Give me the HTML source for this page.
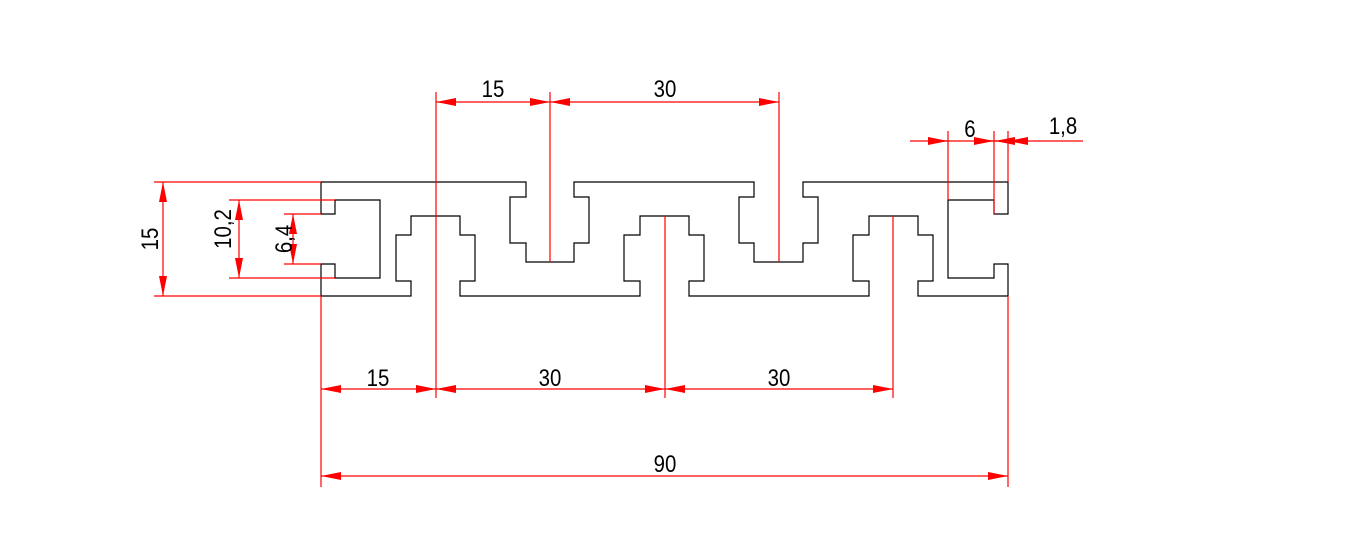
<!DOCTYPE html>
<html><head><meta charset="utf-8"><style>html,body{margin:0;padding:0;background:#fff}svg{display:block}</style></head>
<body>
<svg width="1345" height="556" viewBox="0 0 1345 556" xmlns="http://www.w3.org/2000/svg">
<defs>
<marker id="a" viewBox="0 0 20 8" refX="20" refY="4" markerWidth="20" markerHeight="8" markerUnits="userSpaceOnUse" orient="auto-start-reverse"><path d="M0,0 L20,4 L0,8 z" fill="#ff0000"/></marker>
</defs>
<path fill="none" stroke="#000" stroke-width="1.2" d="M321,182 H526 V197 H510 V243 H526 V262 H574 V243 H589 V197 H574 V182 H754 V197 H739 V243 H754 V262 H803 V243 H818 V197 H803 V182 H1008 V214 H994 V200 H948 V278 H994 V264 H1008 V296 H918 V281 H933 V235 H918 V216 H869 V235 H853 V281 H869 V296 H689 V281 H704 V235 H689 V216 H640 V235 H624 V281 H640 V296 H460 V281 H475 V235 H460 V216 H411 V235 H396 V281 H411 V296 H321 V264 H335 V278 H380 V200 H335 V214 H321 Z"/>
<g stroke="#ff0000" stroke-width="1.2" fill="none">
<path d="M154,182 H321 M154,296 H321 M229,200 H335 M229,278 H335 M284,214 H321 M284,264 H321"/>
<line x1="163" y1="182" x2="163" y2="296" marker-start="url(#a)" marker-end="url(#a)"/>
<line x1="239" y1="200" x2="239" y2="278" marker-start="url(#a)" marker-end="url(#a)"/>
<line x1="293" y1="214" x2="293" y2="264" marker-start="url(#a)" marker-end="url(#a)"/>
<path d="M436,92 V398 M550,92 V262 M779,92 V262 M665,216 V398 M893,216 V398 M321,296 V487 M1008,296 V487 M948,131 V200 M994,131 V214 M1008,131 V182"/>
<line x1="436" y1="102" x2="550" y2="102" marker-start="url(#a)" marker-end="url(#a)"/>
<line x1="550" y1="102" x2="779" y2="102" marker-start="url(#a)" marker-end="url(#a)"/>
<line x1="321" y1="389" x2="436" y2="389" marker-start="url(#a)" marker-end="url(#a)"/>
<line x1="436" y1="389" x2="665" y2="389" marker-start="url(#a)" marker-end="url(#a)"/>
<line x1="665" y1="389" x2="893" y2="389" marker-start="url(#a)" marker-end="url(#a)"/>
<line x1="321" y1="476" x2="1008" y2="476" marker-start="url(#a)" marker-end="url(#a)"/>
<line x1="910" y1="141" x2="1083" y2="141"/>
<line x1="928" y1="141" x2="948" y2="141" marker-end="url(#a)"/>
<line x1="974" y1="141" x2="994" y2="141" marker-end="url(#a)"/>
<line x1="1015" y1="141" x2="995" y2="141" marker-end="url(#a)"/>
<line x1="1028" y1="141" x2="1008" y2="141" marker-end="url(#a)"/>
</g>
<g font-family="Liberation Sans, sans-serif" font-size="24" fill="#000" text-anchor="middle">
<text x="493" y="97" transform="translate(493 0) scale(0.85 1) translate(-493 0)">15</text>
<text x="665" y="97" transform="translate(665 0) scale(0.85 1) translate(-665 0)">30</text>
<text x="970" y="137" transform="translate(970 0) scale(0.85 1) translate(-970 0)">6</text>
<text x="1063" y="134" transform="translate(1063 0) scale(0.85 1) translate(-1063 0)">1,8</text>
<text x="378" y="386" transform="translate(378 0) scale(0.85 1) translate(-378 0)">15</text>
<text x="550" y="386" transform="translate(550 0) scale(0.85 1) translate(-550 0)">30</text>
<text x="779" y="386" transform="translate(779 0) scale(0.85 1) translate(-779 0)">30</text>
<text x="665" y="472" transform="translate(665 0) scale(0.85 1) translate(-665 0)">90</text>
<text transform="translate(158 239) rotate(-90) scale(0.85 1)" x="0" y="0">15</text>
<text transform="translate(231 229) rotate(-90) scale(0.85 1)" x="0" y="0">10,2</text>
<text transform="translate(292 239) rotate(-90) scale(0.85 1)" x="0" y="0">6,4</text>
</g>
</svg>
</body></html>
